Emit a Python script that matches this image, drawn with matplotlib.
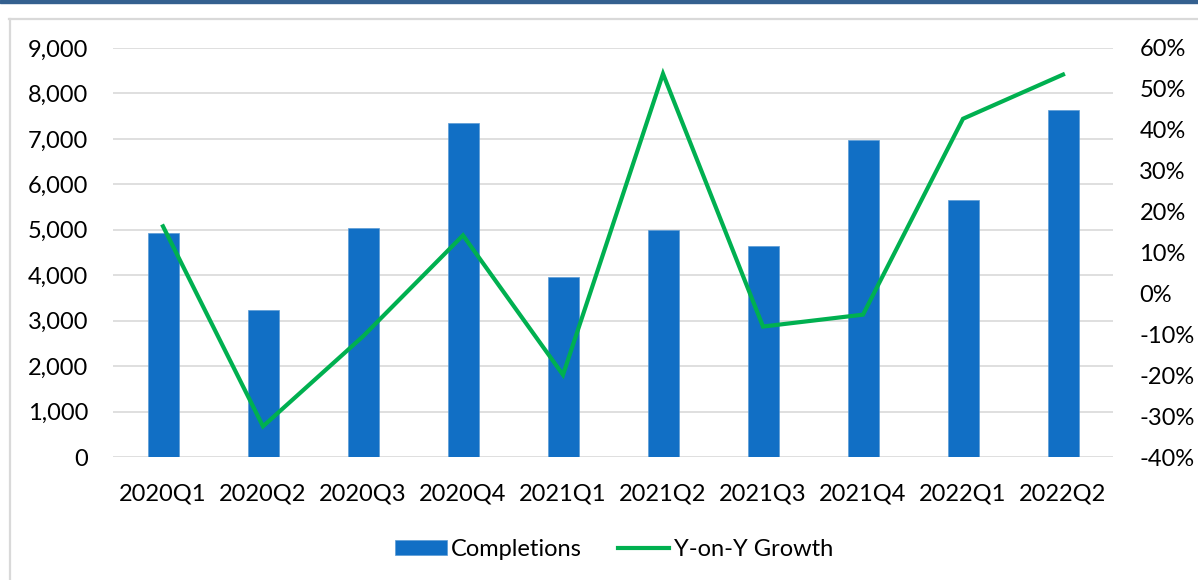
import numpy as np
import matplotlib
matplotlib.use("Agg")
import matplotlib.pyplot as plt
from matplotlib.patches import Rectangle
from matplotlib.lines import Line2D
from matplotlib.ticker import FuncFormatter

plt.rcParams['font.family'] = ['Lato', 'DejaVu Sans']
plt.rcParams['axes.unicode_minus'] = False

# quarterly data
quarters = ['2020Q1', '2020Q2', '2020Q3', '2020Q4', '2021Q1',
            '2021Q2', '2021Q3', '2021Q4', '2022Q1', '2022Q2']
completions = [4940, 3240, 5045, 7340, 3950, 4985, 4640, 6965, 5650, 7645]
yoy_growth = [0.164, -0.325, -0.105, 0.142, -0.199, 0.537, -0.081, -0.052, 0.427, 0.535]

BAR_BLUE = '#116FC5'
LINE_GREEN = '#00B050'
GRID_GREY = '#D9D9D9'
FS = 17

W, H = 1198, 580
fig = plt.figure(figsize=(W / 100, H / 100), dpi=100)

# dark band at top + light frame
fig.patches.append(Rectangle((0, 1 - 3 / H), 1, 3 / H, transform=fig.transFigure,
                             color='#34608F', zorder=0))
fig.lines.append(Line2D([9 / W, 1], [1 - 18.5 / H, 1 - 18.5 / H], transform=fig.transFigure,
                        color=GRID_GREY, lw=1.6))
fig.lines.append(Line2D([9.5 / W, 9.5 / W], [0, 1 - 18.5 / H], transform=fig.transFigure,
                        color=GRID_GREY, lw=1.6))

ax = fig.add_axes([113 / W, 1 - 457 / H, 1000 / W, (457 - 48) / H])
x = np.arange(len(quarters))

ax.bar(x, completions, width=0.31, color=BAR_BLUE, edgecolor='#5B9BD5', linewidth=0.5,
       label='Completions', zorder=2)
ax.set_ylim(0, 9000)
ax.set_yticks(np.arange(0, 9001, 1000))
ax.yaxis.set_major_formatter(FuncFormatter(lambda v, p: f'{v:,.0f}'))
ax.set_xlim(-0.5, len(quarters) - 0.5)
ax.set_xticks(x)
ax.set_xticklabels(quarters)
ax.grid(axis='y', color=GRID_GREY, lw=1.2, zorder=0)
ax.set_axisbelow(True)
for s in ax.spines.values():
    s.set_visible(False)
ax.tick_params(axis='both', length=0, labelsize=FS)
ax.tick_params(axis='y', pad=18)
ax.tick_params(axis='x', pad=19)

ax2 = ax.twinx()
ax2.plot(x, yoy_growth, color=LINE_GREEN, lw=3, label='Y-on-Y Growth',
         solid_joinstyle='miter', zorder=3)
ax2.set_ylim(-0.4, 0.6)
ax2.set_yticks(np.round(np.arange(-0.4, 0.61, 0.1), 2))
ax2.yaxis.set_major_formatter(FuncFormatter(lambda v, p: f'{int(round(v * 100))}%'))
for s in ax2.spines.values():
    s.set_visible(False)
ax2.tick_params(axis='y', length=0, labelsize=FS, pad=19)

h1, l1 = ax.get_legend_handles_labels()
h2, l2 = ax2.get_legend_handles_labels()
fig.legend(h1 + h2, l1 + l2, loc='center', bbox_to_anchor=(614 / W, 1 - 549 / H),
           ncol=2, frameon=False, fontsize=FS, handlelength=2.2, handleheight=0.6,
           handletextpad=0.2, columnspacing=1.5)

fig.savefig('out.png', dpi=100)
